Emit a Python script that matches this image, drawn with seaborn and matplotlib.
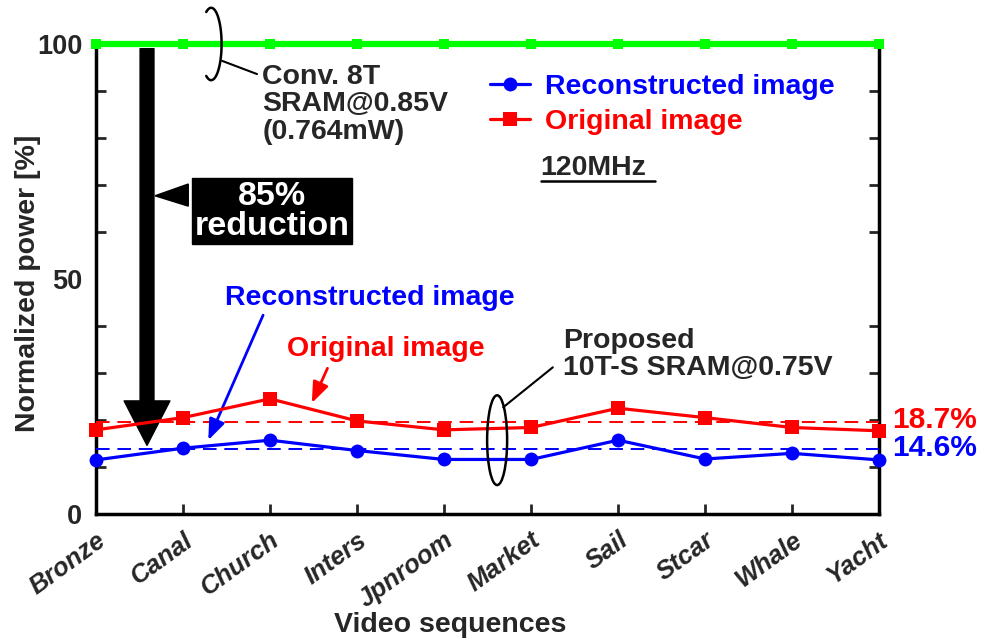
import matplotlib
matplotlib.use("Agg")
import matplotlib.pyplot as plt
from matplotlib.patches import Arc, Polygon
from matplotlib.lines import Line2D
from matplotlib.ticker import MultipleLocator
import seaborn as sns
import pandas as pd
import numpy as np

# ---- data ----
sequences = ["Bronze", "Canal", "Church", "Inters", "Jpnroom",
             "Market", "Sail", "Stcar", "Whale", "Yacht"]
conv_8t = [100, 100, 100, 100, 100, 100, 100, 100, 100, 100]
original = [17.9, 20.5, 24.5, 19.8, 17.9, 18.4, 22.5, 20.5, 18.4, 17.7]
reconstructed = [11.5, 14.0, 15.7, 13.5, 11.6, 11.6, 15.7, 11.7, 12.9, 11.5]
avg_original = 19.5
avg_reconstructed = 13.9
avg_labels = ["18.7%", "14.6%"]
yticks = [0, 50, 100]

sns.set_theme(style="ticks")
plt.rcParams["font.family"] = ["Liberation Sans", "DejaVu Sans"]
plt.rcParams["font.weight"] = "bold"

FS = 20.5

fig = plt.figure(figsize=(9.81, 6.44), dpi=100)
ax = fig.add_axes([0.0979, 0.2019, 0.7982, 0.7298])

df = pd.DataFrame({"seq": sequences, "conv": conv_8t,
                   "orig": original, "rec": reconstructed})

GREEN = "#00FF00"
RED = "#FF0000"
BLUE = "#0000FF"

sns.lineplot(data=df, x="seq", y="conv", sort=False, color=GREEN, lw=4.5,
             marker="s", markersize=7, markeredgewidth=0, clip_on=False,
             ax=ax, zorder=5)
sns.lineplot(data=df, x="seq", y="orig", sort=False, color=RED, lw=2.3,
             marker="s", markersize=10, markeredgewidth=0, clip_on=False,
             ax=ax, zorder=5)
sns.lineplot(data=df, x="seq", y="rec", sort=False, color=BLUE, lw=2.3,
             marker="o", markersize=10, markeredgewidth=0, clip_on=False,
             ax=ax, zorder=5)

# average dashed lines
ax.axhline(avg_original, color=RED, lw=1.4, dashes=(7, 4), zorder=3)
ax.axhline(avg_reconstructed, color=BLUE, lw=1.4, dashes=(7, 4), zorder=3)
ax.text(9.15, 20.0, avg_labels[0], color=RED, fontsize=21.5, fontweight="bold",
        ha="left", va="center", clip_on=False)
ax.text(9.15, 14.0, avg_labels[1], color=BLUE, fontsize=21.5, fontweight="bold",
        ha="left", va="center", clip_on=False)

# axes
ax.set_xlim(0, len(sequences) - 1)
ax.set_ylim(0, 100)
ax.set_yticks(yticks)
ax.yaxis.set_minor_locator(MultipleLocator(10))
ax.set_xticks(range(len(sequences)))
ax.set_xticklabels(sequences, rotation=36, ha="right", va="top",
                   rotation_mode="anchor", fontsize=18.5, fontweight="bold",
                   fontstyle="italic")
ax.tick_params(axis="y", which="both", direction="in", left=True, right=True,
               width=2, labelsize=19.5, pad=10)
ax.tick_params(axis="y", which="major", length=0)
ax.tick_params(axis="y", which="minor", length=7)
ax.tick_params(axis="x", direction="in", length=7, width=2, pad=10, top=False)
for lab in ax.get_yticklabels():
    lab.set_fontweight("bold")
for s in ax.spines.values():
    s.set_visible(True)
    s.set_linewidth(2.5)
    s.set_color("black")
ax.set_xlabel("Video sequences", fontsize=FS, fontweight="bold")
ax.xaxis.set_label_coords(0.452, -0.208)
ax.set_ylabel("Normalized power [%]", fontsize=FS, fontweight="bold")
ax.yaxis.set_label_coords(-0.07, 0.49)

# legend
handles = [Line2D([], [], color=BLUE, lw=2.3, marker="o", markersize=10, markeredgewidth=0),
           Line2D([], [], color=RED, lw=2.3, marker="s", markersize=10, markeredgewidth=0)]
leg = ax.legend(handles, ["Reconstructed image", "Original image"],
                loc="upper left", bbox_to_anchor=(0.503, 0.936), frameon=False,
                handlelength=1.4, handletextpad=0.55, labelspacing=0.33,
                borderpad=0, borderaxespad=0,
                prop={"size": FS, "weight": "bold"}, labelcolor="linecolor")

ax.text(5.11, 73.6, "120MHz", fontsize=FS, fontweight="bold", ha="left",
        va="center")
ax.plot([5.11, 6.43], [70.9, 70.9], color="black", lw=1.8)

# Conv. 8T annotation (bracket: right part of a narrow ellipse)
t = np.radians(np.linspace(-118, 118, 80))
ax.plot(1.323 + 0.12 * np.cos(t), 100 + 7.7 * np.sin(t), color="black",
        lw=1.8, clip_on=False, zorder=6)
ax.plot([1.45, 1.85], [96.4, 93.6], color="black", lw=1.5, zorder=6)
ax.text(1.91, 87.2, "Conv. 8T\nSRAM@0.85V\n(0.764mW)", fontsize=FS,
        fontweight="bold", ha="left", va="center", linespacing=1.08)

# big reduction arrow
ax.annotate("", xy=(0.586, 14.6), xytext=(0.586, 99.0),
            arrowprops=dict(arrowstyle="simple,head_width=33,head_length=32,tail_width=10",
                            mutation_scale=1, color="black", shrinkA=0, shrinkB=0),
            zorder=4)
ax.add_patch(Polygon([[0.678, 67.7], [1.06, 70.2], [1.06, 65.5]],
                     closed=True, color="black", zorder=4))
ax.text(2.02, 64.4, "85%\nreduction", fontsize=24.5, fontweight="bold",
        color="white", ha="center", va="center", linespacing=0.95,
        bbox=dict(boxstyle="square,pad=0.08", fc="black", ec="black"))

# series annotations
ax.text(3.15, 45.9, "Reconstructed image", color=BLUE, fontsize=FS,
        fontweight="bold", ha="center", va="center")
ax.annotate("", xy=(1.29, 15.7), xytext=(1.92, 42.3),
            arrowprops=dict(arrowstyle="-|>,head_width=0.35,head_length=0.9",
                            mutation_scale=14, color=BLUE, lw=2,
                            shrinkA=0, shrinkB=0))
ax.text(3.33, 35.2, "Original image", color=RED, fontsize=FS,
        fontweight="bold", ha="center", va="center")
ax.annotate("", xy=(2.48, 23.6), xytext=(2.66, 31.0),
            arrowprops=dict(arrowstyle="-|>,head_width=0.35,head_length=0.9",
                            mutation_scale=14, color=RED, lw=2,
                            shrinkA=0, shrinkB=0))

# Proposed annotation
ax.add_patch(Arc((4.61, 15.7), 0.23, 19.1, theta1=0, theta2=360,
                 color="black", lw=1.8, zorder=6))
ax.plot([4.68, 5.25], [22.7, 31.2], color="black", lw=1.5, zorder=6)
ax.text(5.37, 34.0, "Proposed\n10T-S SRAM@0.75V", fontsize=FS,
        fontweight="bold", ha="left", va="center", linespacing=1.05)

fig.savefig("out.png", dpi=100)
